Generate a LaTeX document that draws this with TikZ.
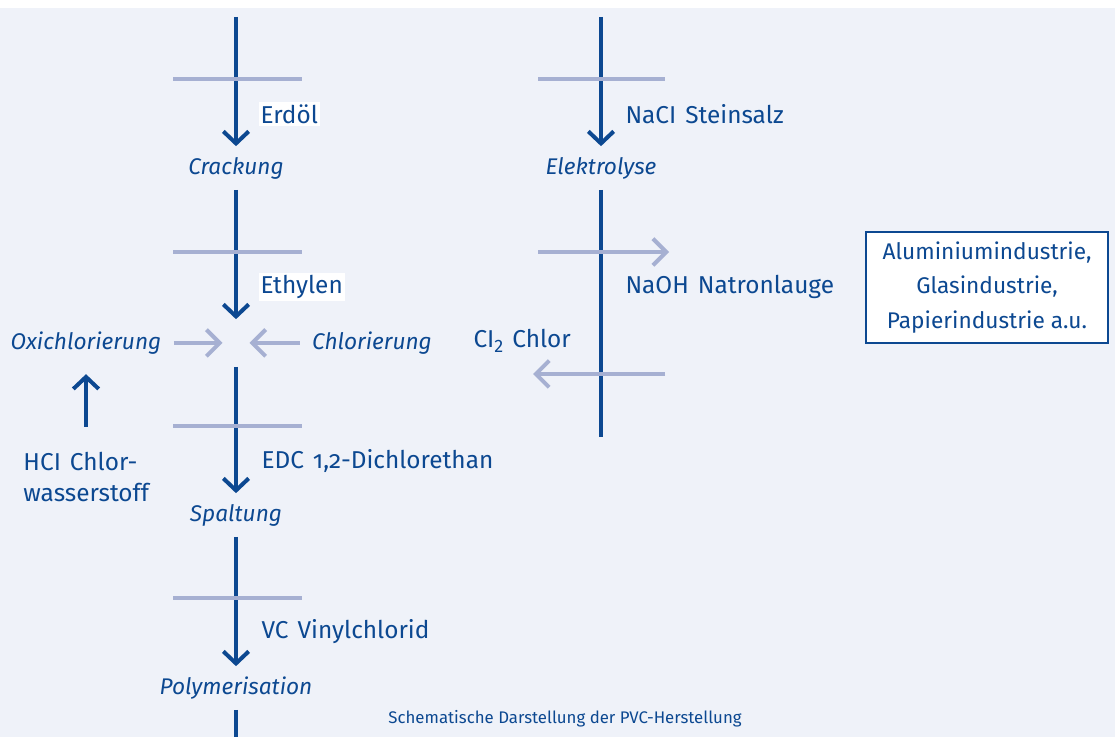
\documentclass[tikz,border=0pt]{standalone}
\usepackage{fontspec}
\setmainfont{Fira Sans}[Numbers=OldStyle]
\newfontfamily\widesans{Fira Sans}[Numbers=OldStyle, WordSpace=1.4]
\usetikzlibrary{arrows.meta}
\definecolor{pvcblue}{RGB}{12,72,145}
\definecolor{pvclight}{RGB}{166,176,210}
\definecolor{pvcback}{RGB}{239,242,249}
\tikzset{every picture/.style={line width=0.75pt}}

\begin{document}
\begin{tikzpicture}[x=0.75pt,y=0.75pt,yscale=-1,xscale=1,
  flowline/.style={color=pvcblue, line width=3pt},
  flowarrow/.style={flowline, -{Straight Barb[length=9pt,width=19pt,line width=3pt]}},
  tickline/.style={color=pvclight, line width=3pt},
  lightarrow/.style={tickline, -{Straight Barb[length=10pt,width=20pt,line width=3pt]}},
  txt/.style={font=\widesans\fontsize{18.3}{23}\selectfont, text=pvcblue, inner sep=1.5pt},
  procnode/.style={txt, font=\fontsize{17}{23}\selectfont\itshape, inner xsep=9pt, inner ysep=0pt, minimum height=32pt}]
%set diagram size and background
\useasboundingbox (0,0) rectangle (1115,737);
\fill [white] (0,0) rectangle (1115,737);
\fill [pvcback] (0,8) rectangle (1115,737);

% Process steps
\node [procnode] (crack) at (236,168) {Crackung};
\node [procnode] (elek) at (601,168) {Elektrolyse};
\node [procnode] (spalt) at (236,515) {Spaltung};
\node [procnode] (poly) at (236,688) {Polymerisation};
\node [procnode] (oxi) at (86,343) {Oxichlorierung};
\node [procnode] (chlor) at (372,343) {Chlorierung};
\node [inner sep=0pt, minimum width=19.5pt, minimum height=35pt] (mix) at (236,343) {};

% Line ends
\coordinate (top1) at (236,17);
\coordinate (top2) at (601,17);
\coordinate (bot1) at (236,737);
\coordinate (bot2) at (601,437);
\coordinate (naohA) at (538,252);
\coordinate (naohB) at (669,252);
\coordinate (chlA) at (665,374);
\coordinate (chlB) at (533,374);

% Main flow
\draw [flowarrow] (top1) -- (crack);
\draw [flowarrow] (crack) -- (mix);
\draw [flowarrow] (mix) -- (spalt);
\draw [flowarrow] (spalt) -- (poly);
\draw [flowline] (poly) -- (bot1);
\draw [flowarrow] (top2) -- (elek);
\draw [flowline] (elek) -- (bot2);

% Side flows
\draw [lightarrow] (oxi) -- (mix);
\draw [lightarrow] (chlor) -- (mix);
\draw [lightarrow] (naohA) -- (naohB);
\draw [lightarrow] (chlA) -- (chlB);
\foreach \y in {79,252,426,598}
  \draw [tickline] (173,\y) -- (302,\y);
\draw [tickline] (538,79) -- (665,79);

% Text Node
\node [txt, anchor=west, fill=white] (erdoel) at (258,114) {Erdöl};
\node [txt, anchor=west, fill=white] (ethylen) at (258,287) {Ethylen};
\node [txt, anchor=west] (edc) at (259,461) {EDC 1,2-Dichlorethan};
\node [txt, anchor=west] (vc) at (259,632) {VC Vinylchlorid};
\node [txt, anchor=west] (nacl) at (623,114) {NaCI Steinsalz};
\node [txt, anchor=west] (naoh) at (623,287) {NaOH Natronlauge};
\node [txt, anchor=west] (cl) at (471,341) {CI\raisebox{-.35ex}{\fontsize{13.5}{13}\selectfont\addfontfeature{Numbers=Lining}2} Chlor};
\node [txt, align=left, inner sep=0pt, anchor=west] (hcl) at (23,477) {HCI Chlor-\\wasserstoff};
\draw [flowarrow, shorten <=19pt, shorten >=7pt] (hcl.north -| oxi) -- (oxi);

% Industry box
\node [txt, font=\fontsize{17}{26}\selectfont, draw=pvcblue, line width=1.2pt, fill=white, align=center, minimum width=181.5pt, minimum height=83pt] (industrie) at (987,287.5) {Aluminiumindustrie,\\Glasindustrie,\\Papierindustrie a.u.};

% Caption
\node [font=\fontsize{12.6}{14}\selectfont, text=pvcblue] (caption) at (565,719) {Schematische Darstellung der PVC-Herstellung};

\end{tikzpicture}
\end{document}
